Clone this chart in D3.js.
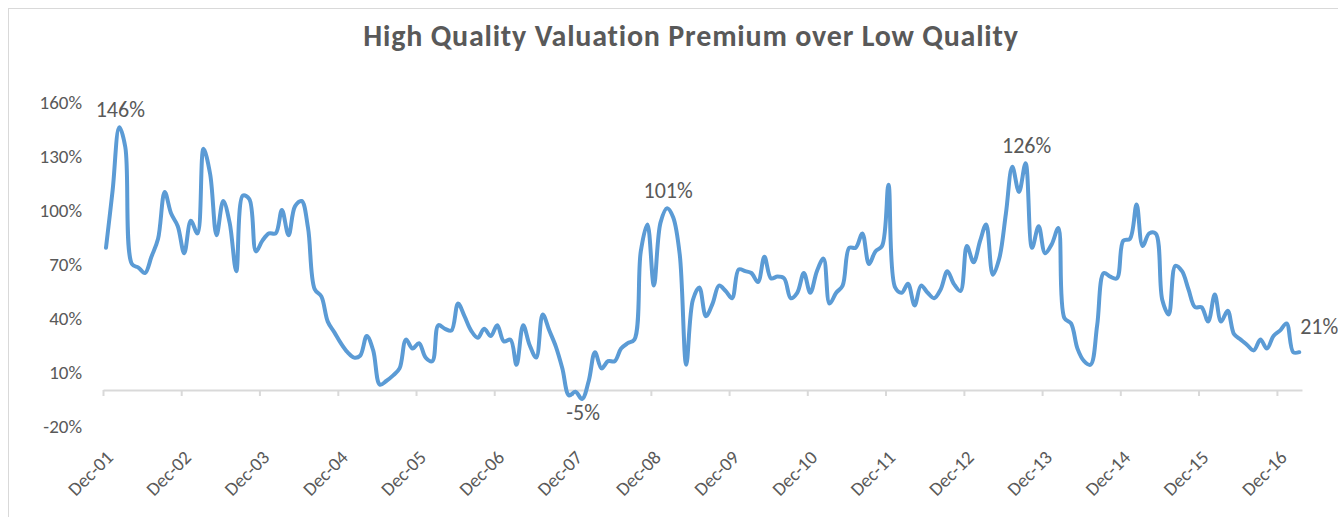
<!DOCTYPE html>
<html>
<head>
<meta charset="utf-8">
<script src="https://cdn.jsdelivr.net/npm/d3@7"></script>
<style>
  body { margin: 0; background: #fff; }
  svg text { font-family: Calibri, Carlito, Lato, sans-serif; fill: #595959; }
</style>
</head>
<body>
<div id="chart"></div>
<script>
var svgWidth = 1338;
var svgHeight = 517;

var margin = { top: 102, right: 36, bottom: 91, left: 103 };
var width = svgWidth - margin.left - margin.right;
var height = svgHeight - margin.top - margin.bottom;

// monthly series, first value is Dec-01, last is Mar-17
var firstMonth = new Date(2001, 11, 15);
var premium = [
  79, 111, 146, 135, 70, 68, 65, 74, 84, 110, 98, 91,
  76, 94, 87, 134, 120, 86, 105, 93, 66, 108, 106, 77,
  83, 87, 87, 100, 86, 102, 105, 90, 56, 52, 38, 32,
  26, 21, 18, 19, 30, 22, 3, 5, 8, 12, 28, 23,
  26, 18, 16, 36, 34, 33, 48, 41, 33, 29, 34, 30,
  36, 27, 28, 14, 36, 25, 18, 42, 33, 24, 12, -3,
  -1, -5, 5, 21, 12, 16, 16, 23, 26, 28, 77, 92,
  58, 93, 101, 96, 75, 14, 50, 57, 41, 48, 58, 55,
  51, 67, 66, 65, 60, 74, 62, 63, 62, 51, 54, 65,
  54, 66, 73, 48, 54, 58, 79, 79, 87, 70, 77, 80,
  114, 57, 54, 59, 47, 58, 54, 51, 56, 66, 59, 55,
  80, 71, 83, 92, 64, 73, 98, 124, 110, 126, 79, 91,
  76, 81, 90, 40, 37, 23, 16, 14, 36, 65, 63, 62,
  83, 84, 103, 80, 87, 87, 50, 42, 69, 66, 56, 46,
  46, 38, 53, 38, 44, 31, 28, 25, 22, 28, 23, 30,
  33, 37, 21, 21
];

var tickYears = d3.range(2001, 2017);
var yTicks = [-20, 10, 40, 70, 100, 130, 160];

// which points carry a value label, and where it sits
var callouts = [
  { index: 2, side: "above" },
  { index: 73, side: "below" },
  { index: 86, side: "above" },
  { index: 141, side: "above" },
  { index: 183, side: "right" }
];

var data = premium.map(function (v, i) {
  return { date: d3.timeMonth.offset(firstMonth, i), value: v };
});

var svg = d3.select("#chart")
  .append("svg")
  .attr("width", svgWidth)
  .attr("height", svgHeight);

// chart area border
svg.append("rect")
  .attr("x", 8.5)
  .attr("y", 8.5)
  .attr("width", svgWidth + 20)
  .attr("height", svgHeight + 20)
  .attr("fill", "none")
  .attr("stroke", "#d9d9d9");

svg.append("text")
  .attr("x", 691)
  .attr("y", 46)
  .attr("text-anchor", "middle")
  .style("font-size", "30px")
  .style("font-weight", "bold")
  .style("letter-spacing", "0.8px")
  .text("High Quality Valuation Premium over Low Quality");

var chartGroup = svg.append("g")
  .attr("transform", `translate(${margin.left}, ${margin.top})`);

var xScale = d3.scaleTime()
  .domain([new Date(2001, 11, 1), new Date(2017, 2, 28)])
  .range([0, width]);

var yScale = d3.scaleLinear()
  .domain([-20, 160])
  .range([height, 0]);

// y labels only, no line
var leftAxis = d3.axisLeft(yScale)
  .tickValues(yTicks)
  .tickSize(0)
  .tickPadding(21)
  .tickFormat(d => d + "%");

var yAxis = chartGroup.append("g").call(leftAxis);
yAxis.select(".domain").remove();
yAxis.selectAll("text")
  .style("font-size", "19px")
  .attr("fill", "#595959");

// x axis sits on the zero line
var bottomAxis = d3.axisBottom(xScale)
  .tickValues(tickYears.map(y => new Date(y, 11, 1)))
  .tickFormat(d3.timeFormat("%b-%y"))
  .tickSize(6)
  .tickSizeOuter(0);

var xAxis = chartGroup.append("g")
  .attr("transform", `translate(0, ${yScale(0)})`)
  .call(bottomAxis);

xAxis.select(".domain")
  .attr("stroke", "#d9d9d9")
  .attr("stroke-width", 2);
xAxis.selectAll(".tick line")
  .attr("stroke", "#d9d9d9")
  .attr("stroke-width", 2);
xAxis.selectAll("text")
  .attr("x", 0)
  .attr("y", 0)
  .attr("dy", "0.35em")
  .attr("transform", "translate(6, 64) rotate(-45)")
  .style("text-anchor", "end")
  .style("font-size", "19px")
  .attr("fill", "#595959");

var line = d3.line()
  .x(d => xScale(d.date))
  .y(d => yScale(d.value))
  .curve(d3.curveCatmullRom.alpha(0.5));

chartGroup.append("path")
  .datum(data)
  .attr("fill", "none")
  .attr("stroke", "#5b9bd5")
  .attr("stroke-width", 4)
  .attr("stroke-linejoin", "round")
  .attr("stroke-linecap", "round")
  .attr("d", line);

// value labels
chartGroup.selectAll(".callout")
  .data(callouts)
  .enter()
  .append("text")
  .attr("class", "callout")
  .attr("x", function (c) {
    var px = xScale(data[c.index].date);
    return px + 1;
  })
  .attr("y", function (c) {
    var py = yScale(data[c.index].value);
    if (c.side === "below") return py + 21;
    if (c.side === "right") return py - 18;
    return py - 10;
  })
  .attr("text-anchor", c => c.side === "right" ? "start" : "middle")
  .style("font-size", "22px")
  .attr("fill", "#404040")
  .text(c => data[c.index].value + "%");
</script>
</body>
</html>
